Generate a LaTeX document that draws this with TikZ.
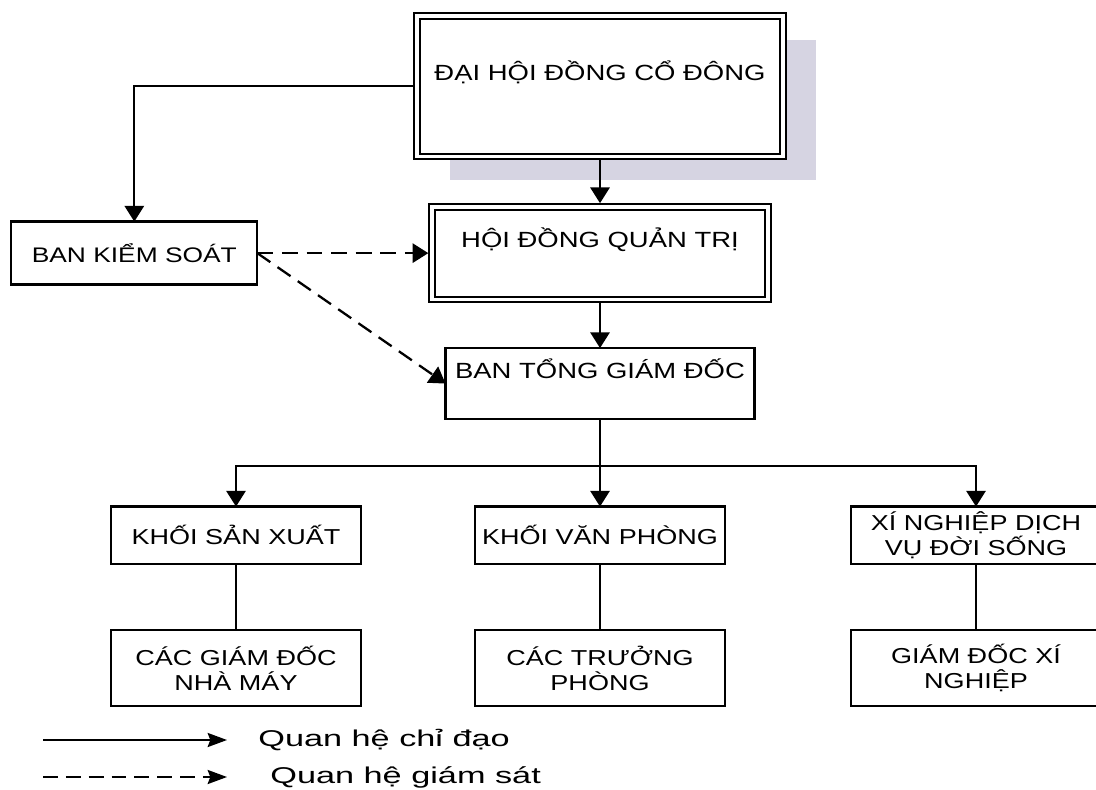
\documentclass[tikz,border=0pt]{standalone}
\usepackage{fontspec}
\setmainfont{Liberation Sans}[FakeStretch=1.25]
\newfontfamily\legendfont{Liberation Sans}[FakeStretch=1.5]
\usepackage{xcolor}
\usetikzlibrary{arrows.meta, positioning, calc, shadows}
\definecolor{shadowgray}{RGB}{214,212,226}

\begin{document}
\begin{tikzpicture}[
    node distance=1cm,
    orgbox/.style={rectangle, draw=black, line width=1.3pt, fill=white, align=center, inner sep=2pt, outer sep=0pt, font=\fontsize{12.5}{15}\selectfont},
    dblbox/.style={orgbox, double, double distance=2pt, line width=1.1pt, outer sep=2.1pt},
    uptext/.style={text height=10pt, text depth=16pt},
    unitbox/.style={orgbox, minimum width=5cm, font=\fontsize{12.3}{14.2}\selectfont},
    link/.style={line width=1.3pt},
    arr/.style={-{Triangle[length=9pt,width=11pt]}, line width=1.3pt},
    darr/.style={arr, dash pattern=on 9pt off 5pt},
    legarr/.style={-{Stealth[length=11pt,width=8pt,inset=1.5pt]}, line width=1.2pt},
    legtext/.style={inner sep=0pt, font=\legendfont\fontsize{13}{15}\selectfont}
]
\useasboundingbox (0,0) rectangle (21.92,-15.8);

\node[dblbox, uptext, minimum width=7.32cm, minimum height=2.81cm, drop shadow={shadow xshift=0.65cm, shadow yshift=-0.48cm, fill=shadowgray, opacity=1}] (dhcd) at (12.0,-1.725) {ĐẠI HỘI ĐỒNG CỔ ĐÔNG};
\node[dblbox, uptext, minimum width=6.72cm, minimum height=1.85cm, below=0.86cm of dhcd] (hdqt) {HỘI ĐỒNG QUẢN TRỊ};
\node[orgbox, uptext, minimum width=6.18cm, minimum height=1.42cm, below=0.90cm of hdqt] (btgd) {BAN TỔNG GIÁM ĐỐC};
\node[orgbox, minimum width=4.92cm, minimum height=1.26cm, left=3.42cm of hdqt, font=\fontsize{12}{14}\selectfont] (bks) {BAN KIỂM SOÁT};

\node[unitbox, minimum height=1.15cm, below=1.75cm of btgd] (kvp) {KHỐI VĂN PHÒNG};
\node[unitbox, minimum height=1.15cm, left=2.28cm of kvp] (ksx) {KHỐI SẢN XUẤT};
\node[unitbox, minimum height=1.15cm, right=2.52cm of kvp] (xndv) {XÍ NGHIỆP DỊCH\\VỤ ĐỜI SỐNG};

\node[unitbox, minimum height=1.52cm, below=1.32cm of ksx] (gdnm) {CÁC GIÁM ĐỐC\\NHÀ MÁY};
\node[unitbox, minimum height=1.52cm, below=1.32cm of kvp] (ctp) {CÁC TRƯỞNG\\PHÒNG};
\node[unitbox, minimum height=1.52cm, below=1.32cm of xndv] (gdxn) {GIÁM ĐỐC XÍ\\NGHIỆP};

\coordinate[below=0.94cm of btgd] (fork);

\draw[arr] (dhcd) -- (hdqt);
\draw[arr] (hdqt) -- (btgd);
\draw[arr] (dhcd.west) -| (bks.north);
\draw[darr] (bks.east) -- (bks.east -| hdqt.west);
\draw[darr] (bks.east) -- (btgd.west);
\draw[link] (btgd) -- (fork);
\draw[arr] (fork) -| (ksx.north);
\draw[arr] (fork) -- (kvp);
\draw[arr] (fork) -| (xndv.north);
\draw[link] (ksx) -- (gdnm);
\draw[link] (kvp) -- (ctp);
\draw[link] (xndv) -- (gdxn);

\coordinate (lgA) at (0.86,-14.8);
\coordinate (lgB) at (4.54,-14.8);
\coordinate (lgC) at (0.86,-15.54);
\coordinate (lgD) at (4.54,-15.54);
\node[legtext, right=0.62cm of lgB] (lgchidao) {Quan hệ chỉ đạo};
\node[legtext, right=0.86cm of lgD] (lggiamsat) {Quan hệ giám sát};
\draw[legarr] (lgA) -- (lgB);
\draw[legarr, dash pattern=on 8.5pt off 4.5pt] (lgC) -- (lgD);

\end{tikzpicture}
\end{document}
